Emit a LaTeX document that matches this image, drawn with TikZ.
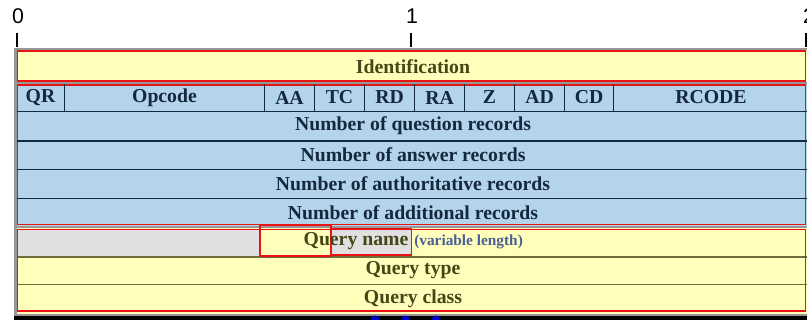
\documentclass[tikz,border=0pt]{standalone}
\usepackage{fontspec}
\setmainfont{Liberation Serif}
\newfontfamily\axisfont{Liberation Sans}
\definecolor{yel}{RGB}{255,255,187}
\definecolor{blu}{RGB}{180,212,236}
\definecolor{gbox}{RGB}{224,224,224}
\definecolor{frame}{RGB}{150,150,150}
\definecolor{navy}{RGB}{20,40,62}
\definecolor{olive}{RGB}{70,70,25}
\definecolor{oline}{RGB}{110,110,60}
\definecolor{vartxt}{RGB}{75,95,150}
\definecolor{redl}{RGB}{235,20,20}
\begin{document}
\begin{tikzpicture}[x=0.75pt,y=-0.75pt,
  bluetxt/.style={font=\fontsize{14.8}{16}\selectfont\bfseries, text=navy, inner sep=0pt},
  yeltxt/.style={font=\fontsize{14.8}{16}\selectfont\bfseries, text=olive, inner sep=0pt},
  axislbl/.style={font=\axisfont\fontsize{16}{18}\selectfont, inner sep=0pt},
  sepblue/.style={navy, line width=1.4pt},
  sepyel/.style={oline, line width=1.2pt},
  redbox/.style={draw=redl, line width=0.8pt},
  tickmark/.style={black, line width=1.2pt}]
\useasboundingbox (0,0) rectangle (807,320);
\fill[white] (0,0) rectangle (807,320);
% axis
\node[axislbl] (l0) at (18,16) {0};
\node[axislbl] (l1) at (412,16) {1};
\node[axislbl] (l2) at (809,16) {2};
\draw[tickmark] (17,33) -- (17,47);
\draw[tickmark] (411,33) -- (411,47);
\draw[tickmark] (806,33) -- (806,47);
% frame
\fill[frame] (14,48) rectangle (807,316);
\fill[black] (14,316) rectangle (807,320);
\foreach \xx in {375,405.5,436} \fill[blue!80!black] (\xx,320) circle (4.5);
% identification
\fill[yel] (16.5,50) rectangle (807,82);
\draw[redbox] (17.5,51) rectangle (805.5,81);
\node[yeltxt] (ident) at (413,67) {Identification};
% blue block
\fill[blu] (16.5,84) rectangle (807,226);
\draw[redbox] (17.5,85) rectangle (805.5,224.5);
\foreach \xx in {64.5,264.5,314.5,364.5,414.5,464.5,514.5,564.5,613.5}
  \draw[sepblue] (\xx,84) -- (\xx,111.5);
\foreach \yy in {111.5,141,169.5,198.5}
  \draw[sepblue] (16.5,\yy) -- (807,\yy);
\node[bluetxt] (qr) at (40.5,97.5) {QR};
\node[bluetxt] (opcode) at (164.5,97.5) {Opcode};
\node[bluetxt] (aa) at (289.5,97.5) {AA};
\node[bluetxt] (tc) at (339.5,97.5) {TC};
\node[bluetxt] (rd) at (389.5,97.5) {RD};
\node[bluetxt] (ra) at (439.5,97.5) {RA};
\node[bluetxt] (z) at (489.5,97.5) {Z};
\node[bluetxt] (ad) at (539.5,97.5) {AD};
\node[bluetxt] (cd) at (589,97.5) {CD};
\node[bluetxt] (rcode) at (711,97.5) {RCODE};
\node[bluetxt] (nq) at (413,126) {Number of question records};
\node[bluetxt] (na) at (413,155) {Number of answer records};
\node[bluetxt] (nauth) at (413,183.5) {Number of authoritative records};
\node[bluetxt] (nadd) at (413,212.5) {Number of additional records};
% query block
\fill[yel] (16.5,228) rectangle (807,314);
\fill[gbox] (17.5,229.5) rectangle (259,256);
\fill[gbox] (330,229) rectangle (411.5,255);
\draw[sepyel] (16.5,256.8) -- (807,256.8);
\draw[sepyel] (16.5,284.5) -- (807,284.5);
\draw[redbox] (17.5,229.5) rectangle (805.5,311);
\draw[redbox, line width=1.5pt] (259.5,225.5) rectangle (330.5,256);
\draw[redbox] (330.5,229) rectangle (411.5,255);
\node[yeltxt] (qname) at (356,241.5) {Query name};
\node[font=\fontsize{11.5}{13}\selectfont\bfseries, text=vartxt, inner sep=0pt, anchor=west] (varlen) at (414,242) {(variable length)};
\node[yeltxt] (qtype) at (413,270) {Query type};
\node[yeltxt] (qclass) at (413,299) {Query class};
\end{tikzpicture}
\end{document}
